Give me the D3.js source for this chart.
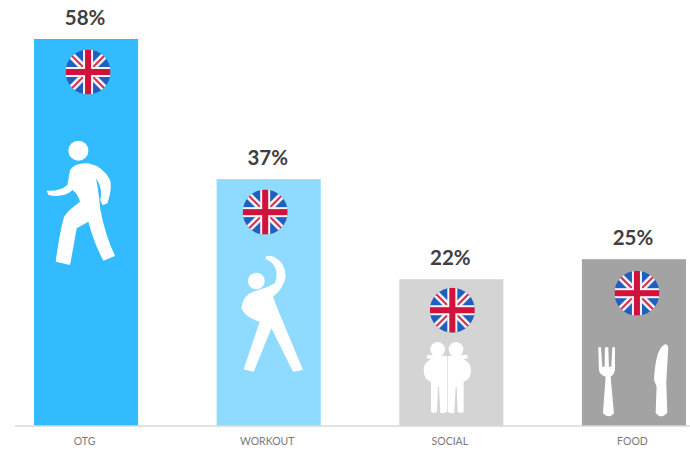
<!DOCTYPE html>
<html>
<head>
<meta charset="utf-8">
<script src="https://cdn.jsdelivr.net/npm/d3@7"></script>
<style>
  html, body { margin: 0; padding: 0; background: #fff; }
  svg { display: block; }
</style>
</head>
<body>
<svg id="chart" width="690" height="450"></svg>
<script>
// Share of occasions by category
const categories = ["OTG", "WORKOUT", "SOCIAL", "FOOD"];
const shares = [58, 37, 22, 25];
const barColors = ["#33bbff", "#8fdbff", "#d4d4d4", "#a3a3a3"];

// Pictogram outlines, drawn at 3x and anchored on the bar's bottom centre
const icons = {
  OTG: {
    ax: 198, ay: 1278,
    heads: [[175, 452, 30]],
    paths: ["M150,510 Q165,487 205,490 Q250,500 270,540 Q277,565 262,610 L248,616 L240,600 Q250,570 228,535 Q238,590 240,625 Q255,705 285,768 L250,782 Q222,730 205,665 L170,685 L150,795 L107,785 Q118,700 132,650 Q145,630 180,605 Q175,585 158,570 Q130,595 85,585 L80,572 Q120,575 142,555 Z"]
  },
  WORKOUT: {
    ax: 177, ay: 858,
    heads: [[140, 423, 25]],
    paths: ["M168,350 Q178,343 195,352 Q228,370 228,410 Q222,445 190,470 L205,510 L280,690 L250,695 L185,565 L132,695 L102,688 L150,545 Q110,535 95,505 Q100,465 130,455 Q170,445 195,430 Q207,400 195,380 Q185,362 168,358 Z"]
  },
  SOCIAL: {
    ax: 183, ay: 588,
    heads: [[142, 358, 22], [197, 358, 22]],
    paths: [
      "M100,420 Q100,398 122,388 L108,384 L112,374 L170,378 L170,545 Q160,552 150,548 L146,470 L143,470 L140,545 Q130,552 122,545 L122,455 Q100,450 100,420 Z",
      "M242,420 Q242,398 220,388 L234,384 L230,374 L172,378 L172,545 Q182,552 192,548 L196,470 L199,470 L202,545 Q212,552 220,545 L220,455 Q242,450 242,420 Z"
    ]
  },
  FOOD: {
    ax: 735, ay: 588,
    heads: [],
    paths: [
      "M628,352 L636,352 L640,410 L647,410 L648,352 L658,352 L660,410 L667,410 L670,352 L678,352 L678,420 Q675,435 665,440 L675,550 Q660,568 642,550 L650,440 Q632,435 630,420 Z",
      "M828,343 Q800,355 795,450 L803,470 L800,548 Q815,570 835,548 L832,455 L838,352 Q836,342 828,343 Z"
    ]
  }
};

// Sideways nudge of the roundel and its height below the bar top
const flagPlacement = {
  OTG: [2, 33], WORKOUT: [-3.5, 33], SOCIAL: [1, 31], FOOD: [3, 34]
};
const flagRadius = 22.5;

const svg = d3.select("#chart");
const font = "Lato, 'Open Sans', sans-serif";

const x = d3.scaleBand().domain(categories).range([34, 686]).paddingInner(0.43).paddingOuter(0);
const y = d3.scaleLinear().domain([0, 58]).range([426, 39]);

const rows = categories.map((c, i) => ({ category: c, share: shares[i], color: barColors[i] }));

// Bars
svg.append("g").selectAll("rect").data(rows).join("rect")
  .attr("x", d => x(d.category))
  .attr("y", d => y(d.share))
  .attr("width", x.bandwidth())
  .attr("height", d => y(0) - y(d.share))
  .attr("fill", d => d.color);

// Baseline runs past the bars on both sides
svg.append("line")
  .attr("x1", 15).attr("x2", 690)
  .attr("y1", y(0)).attr("y2", y(0))
  .attr("stroke", "#d9d9d9").attr("stroke-width", 1.5);

// Category labels
const axis = svg.append("g")
  .attr("transform", `translate(-1.5,${y(0)})`)
  .call(d3.axisBottom(x).tickSize(0).tickPadding(12));
axis.select(".domain").remove();
axis.selectAll("text")
  .attr("fill", "#7a7a7a")
  .style("font-family", font)
  .style("font-size", "10.5px");

// Value labels
svg.append("g").selectAll("text").data(rows).join("text")
  .attr("x", d => x(d.category) + x.bandwidth() / 2 - 1)
  .attr("y", d => y(d.share) - 14)
  .attr("text-anchor", "middle")
  .attr("fill", "#404040")
  .style("font-family", font)
  .style("font-weight", 700)
  .style("font-size", "20.5px")
  .text(d => d.share + "%");

// Union Flag roundel, defined once and reused on every bar
const defs = svg.append("defs");
defs.append("clipPath").attr("id", "roundel")
  .append("circle").attr("r", flagRadius);
const flag = defs.append("g").attr("id", "flag").attr("clip-path", "url(#roundel)");
const R = flagRadius;
flag.append("rect").attr("x", -R).attr("y", -R).attr("width", 2 * R).attr("height", 2 * R).attr("fill", "#1f5fbf");
[[-1, -1, 1, 1], [-1, 1, 1, -1]].forEach(([a, b, c, d]) => {
  flag.append("line")
    .attr("x1", a * R).attr("y1", b * R).attr("x2", c * R).attr("y2", d * R)
    .attr("stroke", "#f2f2f2").attr("stroke-width", 7);
  flag.append("line")
    .attr("x1", a * R).attr("y1", b * R).attr("x2", c * R).attr("y2", d * R)
    .attr("stroke", "#d9294f").attr("stroke-width", 2);
});
flag.append("rect").attr("x", -R).attr("y", -5).attr("width", 2 * R).attr("height", 10).attr("fill", "#f4f4f4");
flag.append("rect").attr("x", -5).attr("y", -R).attr("width", 10).attr("height", 2 * R).attr("fill", "#f4f4f4");
flag.append("rect").attr("x", -R).attr("y", -3).attr("width", 2 * R).attr("height", 6).attr("fill", "#d2123c");
flag.append("rect").attr("x", -3).attr("y", -R).attr("width", 6).attr("height", 2 * R).attr("fill", "#d2123c");

svg.append("g").selectAll("use").data(rows).join("use")
  .attr("href", "#flag")
  .attr("transform", d => {
    const [dx, dy] = flagPlacement[d.category];
    return `translate(${x(d.category) + x.bandwidth() / 2 + dx},${y(d.share) + dy})`;
  });

// Pictograms
const iconGroups = svg.append("g").selectAll("g").data(rows).join("g")
  .attr("fill", "#fff")
  .attr("transform", d => {
    const ic = icons[d.category];
    return `translate(${x(d.category) + x.bandwidth() / 2 - ic.ax / 3},${y(0) - ic.ay / 3}) scale(${1 / 3})`;
  });
iconGroups.selectAll("path").data(d => icons[d.category].paths).join("path")
  .attr("d", d => d);
iconGroups.selectAll("circle").data(d => icons[d.category].heads).join("circle")
  .attr("cx", d => d[0]).attr("cy", d => d[1]).attr("r", d => d[2]);
</script>
</body>
</html>
